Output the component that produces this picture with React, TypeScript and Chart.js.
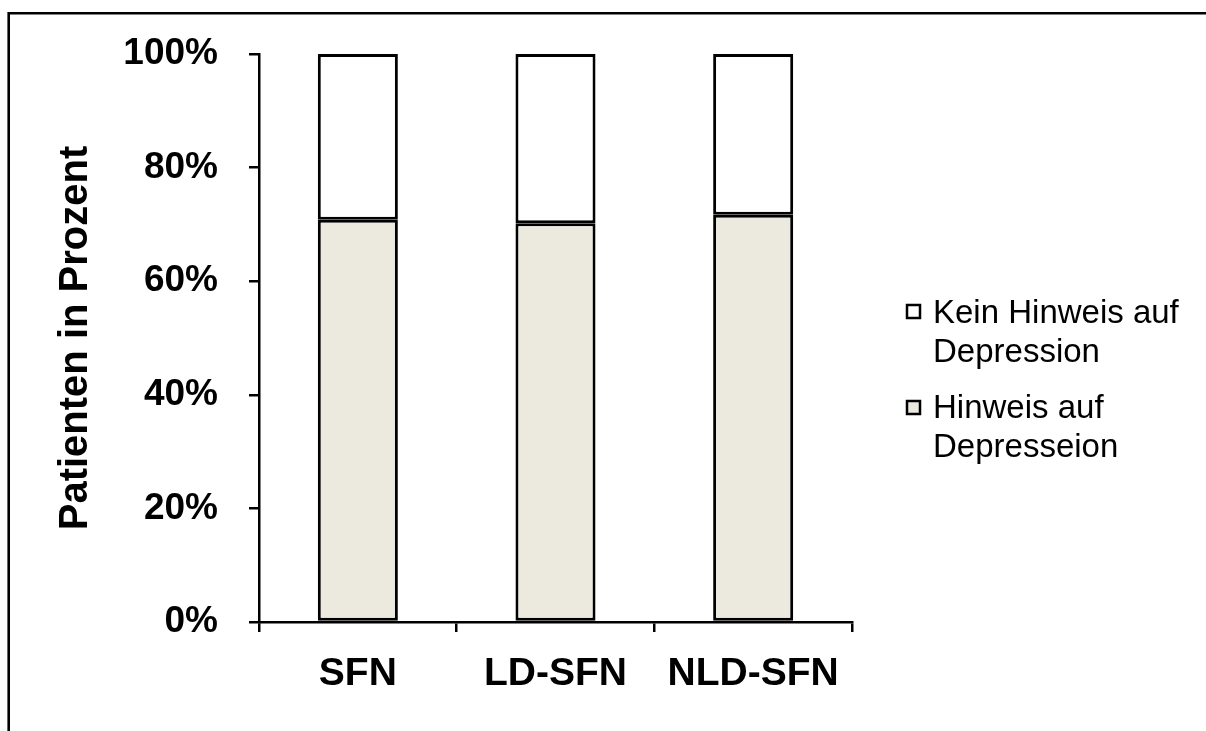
import React, { useEffect, useRef } from "react";
import { Chart, registerables } from "chart.js";

Chart.register(...registerables);

const categories = ["SFN", "LD-SFN", "NLD-SFN"];
const hinweisValues = [70.8, 70.2, 71.7];
const keinHinweisValues = [29.2, 29.8, 28.3];
const yTickValues = [0, 20, 40, 60, 80, 100];
const legendKein = ["Kein Hinweis auf", "Depression"];
const legendHinweis = ["Hinweis auf", "Depresseion"];
const yAxisTitle = "Patienten in Prozent";

const FONT = "'Liberation Sans', Arial, sans-serif";
const BEIGE = "#ECEADF";

const frameAndLegend = {
  id: "frameAndLegend",
  beforeDraw(chart: any) {
    const ctx = chart.ctx;
    ctx.save();
    ctx.fillStyle = "#fff";
    ctx.fillRect(0, 0, chart.width, chart.height);
    ctx.strokeStyle = "#000";
    ctx.lineWidth = 2.6;
    ctx.beginPath();
    ctx.moveTo(8.7, chart.height);
    ctx.lineTo(8.7, 13.3);
    ctx.lineTo(chart.width, 13.3);
    ctx.stroke();
    ctx.restore();
  },
  afterDraw(chart: any) {
    const ctx = chart.ctx;
    const area = chart.chartArea;
    const items = [
      { lines: legendKein, fill: "#ffffff", boxTop: area.top + 251, base: area.top + 269 },
      { lines: legendHinweis, fill: BEIGE, boxTop: area.top + 347, base: area.top + 364 },
    ];
    ctx.save();
    ctx.font = `33px ${FONT}`;
    ctx.textBaseline = "alphabetic";
    ctx.textAlign = "left";
    const boxX = area.right + 55;
    items.forEach((it) => {
      ctx.fillStyle = it.fill;
      ctx.fillRect(boxX, it.boxTop, 13, 13);
      ctx.strokeStyle = "#000";
      ctx.lineWidth = 2.5;
      ctx.strokeRect(boxX, it.boxTop, 13, 13);
      ctx.fillStyle = "#000";
      it.lines.forEach((line, i) => {
        ctx.fillText(line, boxX + 26, it.base + i * 38.5);
      });
    });
    ctx.restore();
  },
};

export default function App() {
  const canvasRef = useRef<HTMLCanvasElement | null>(null);

  useEffect(() => {
    if (!canvasRef.current) return;
    const chart = new Chart(canvasRef.current, {
      type: "bar",
      data: {
        labels: categories,
        datasets: [
          {
            label: legendHinweis.join(" "),
            data: hinweisValues,
            backgroundColor: BEIGE,
            borderColor: "#000",
            borderWidth: 3,
            borderSkipped: false,
            barPercentage: 0.405,
            categoryPercentage: 1,
          },
          {
            label: legendKein.join(" "),
            data: keinHinweisValues,
            backgroundColor: "#ffffff",
            borderColor: "#000",
            borderWidth: 3,
            borderSkipped: false,
            barPercentage: 0.405,
            categoryPercentage: 1,
          },
        ],
      },
      options: {
        animation: false,
        responsive: true,
        maintainAspectRatio: false,
        layout: { padding: { left: 0, top: 54, right: 354, bottom: 0 } },
        plugins: {
          legend: { display: false },
          tooltip: { enabled: false },
        },
        scales: {
          x: {
            stacked: true,
            offset: true,
            grid: {
              offset: true,
              drawOnChartArea: false,
              drawTicks: true,
              tickLength: 10,
              tickColor: "#000",
              tickWidth: 2.5,
              color: "#000",
              lineWidth: 2.5,
            },
            border: { display: true, color: "#000", width: 2.5 },
            ticks: {
              color: "#000",
              font: { family: FONT, size: 39, weight: "bold" },
              padding: 19,
              maxRotation: 0,
              autoSkip: false,
            },
            afterFit: (scale: any) => {
              scale.height = 109;
            },
          },
          y: {
            stacked: true,
            min: 0,
            max: 100,
            afterBuildTicks: (scale: any) => {
              scale.ticks = yTickValues.map((v) => ({ value: v }));
            },
            grid: {
              drawOnChartArea: false,
              drawTicks: true,
              tickLength: 10,
              tickColor: "#000",
              tickWidth: 2.5,
              color: "#000",
              lineWidth: 2.5,
            },
            border: { display: true, color: "#000", width: 2.5 },
            ticks: {
              color: "#000",
              font: { family: FONT, size: 37, weight: "bold" },
              padding: 31,
              callback: (v: any) => `${v}%`,
            },
            title: {
              display: true,
              text: yAxisTitle,
              color: "#000",
              font: { family: FONT, size: 40, weight: "bold" },
              padding: { top: 52, bottom: 0 },
            },
            afterFit: (scale: any) => {
              scale.width = 259;
            },
          },
        },
      },
      plugins: [frameAndLegend],
    });
    return () => chart.destroy();
  }, []);

  return (
    <div style={{ position: "fixed", left: 0, top: 0, width: 1206, height: 731, background: "#fff" }}>
      <canvas ref={canvasRef} />
    </div>
  );
}
